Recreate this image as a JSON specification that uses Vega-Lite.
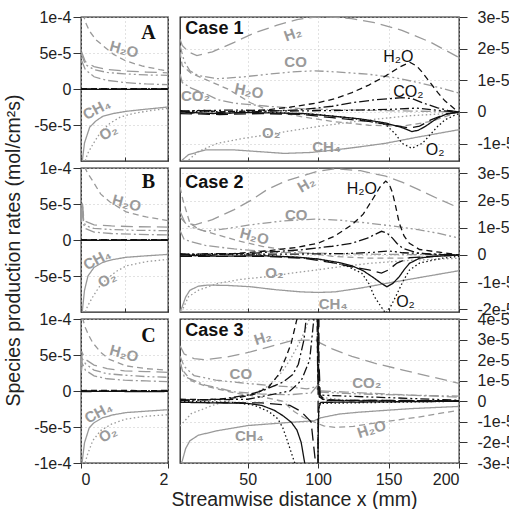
{
"$schema":"https://vega.github.io/schema/vega-lite/v6.json",
"padding":{"left":2,"top":8,"right":0,"bottom":0},
"background":"white",
"config":{
 "view":{"stroke":"#222","strokeWidth":1.3},
 "font":"Liberation Sans",
 "axis":{"labelFont":"Liberation Sans","labelFontSize":16,"labelColor":"#222","tickColor":"#333","domain":false,"grid":true,"gridColor":"#c4c4c4","gridDash":[1,3],"gridWidth":1,"titleFont":"Liberation Sans","titleFontSize":19.5,"titleFontWeight":"normal","titleColor":"#222"},
 "text":{"font":"Liberation Sans","fontSize":15}
},
"datasets":{
"labels":[
 {"p":"A","k":"letter","t":"A","g":"black","x":1.55,"y":0.78e-4},
 {"p":"A","k":"down","t":"H₂O","g":"gray","x":0.99,"y":0.55e-4},
 {"p":"A","k":"steep","t":"CH₄","g":"gray","x":0.36,"y":-0.28e-4},
 {"p":"A","k":"steep","t":"O₂","g":"gray","x":0.63,"y":-0.6e-4},
 {"p":"B","k":"letter","t":"B","g":"black","x":1.55,"y":0.8e-4},
 {"p":"B","k":"down","t":"H₂O","g":"gray","x":1.05,"y":0.51e-4},
 {"p":"B","k":"steep","t":"CH₄","g":"gray","x":0.37,"y":-0.27e-4},
 {"p":"B","k":"steep","t":"O₂","g":"gray","x":0.6,"y":-0.55e-4},
 {"p":"C","k":"letter","t":"C","g":"black","x":1.55,"y":0.76e-4},
 {"p":"C","k":"down","t":"H₂O","g":"gray","x":0.99,"y":0.52e-4},
 {"p":"C","k":"steep","t":"CH₄","g":"gray","x":0.4,"y":-0.3e-4},
 {"p":"C","k":"steep","t":"O₂","g":"gray","x":0.62,"y":-0.6e-4},
 {"p":"1","k":"case","t":"Case 1","g":"black","x":5.8,"y":2.63e-5},
 {"p":"1","k":"up","t":"H₂","g":"gray","x":82,"y":2.47e-5},
 {"p":"1","k":"flat","t":"CO","g":"gray","x":84,"y":1.57e-5},
 {"p":"1","k":"down","t":"H₂O","g":"gray","x":51,"y":0.66e-5},
 {"p":"1","k":"flat","t":"CO₂","g":"gray","x":13,"y":0.5e-5},
 {"p":"1","k":"flat","t":"O₂","g":"gray","x":66.7,"y":-0.67e-5},
 {"p":"1","k":"flat","t":"CH₄","g":"gray","x":106,"y":-1.1e-5},
 {"p":"1","k":"bflat","t":"H₂O","g":"black","x":157,"y":1.73e-5},
 {"p":"1","k":"bflat","t":"CO₂","g":"black","x":164,"y":0.63e-5},
 {"p":"1","k":"bflat","t":"O₂","g":"black","x":183,"y":-1.2e-5},
 {"p":"2","k":"case","t":"Case 2","g":"black","x":5.8,"y":2.66e-5},
 {"p":"2","k":"steep","t":"H₂","g":"gray","x":91.7,"y":2.6e-5},
 {"p":"2","k":"flat","t":"CO","g":"gray","x":84.5,"y":1.48e-5},
 {"p":"2","k":"down","t":"H₂O","g":"gray","x":54.8,"y":0.68e-5},
 {"p":"2","k":"flat","t":"O₂","g":"gray","x":69,"y":-0.68e-5},
 {"p":"2","k":"flat","t":"CH₄","g":"gray","x":110.7,"y":-1.79e-5},
 {"p":"2","k":"bflat","t":"H₂O","g":"black","x":131,"y":2.41e-5},
 {"p":"2","k":"bflat","t":"O₂","g":"black","x":162,"y":-1.73e-5},
 {"p":"3","k":"case","t":"Case 3","g":"black","x":5.8,"y":3.41e-5},
 {"p":"3","k":"up","t":"H₂","g":"gray","x":60.7,"y":3.09e-5},
 {"p":"3","k":"flat","t":"CO","g":"gray","x":45.2,"y":1.33e-5},
 {"p":"3","k":"flat","t":"CO₂","g":"gray","x":134.5,"y":0.87e-5},
 {"p":"3","k":"flat","t":"CH₄","g":"gray","x":51.2,"y":-1.67e-5},
 {"p":"3","k":"up","t":"H₂O","g":"gray","x":138,"y":-1.35e-5}
],
"curves":[
 {"p":"A","s":"H2O","g":"gray","x":0.05,"y":1.05e-4},{"p":"A","s":"H2O","g":"gray","x":0.1,"y":0.93e-4},{"p":"A","s":"H2O","g":"gray","x":0.2,"y":0.8e-4},{"p":"A","s":"H2O","g":"gray","x":0.35,"y":0.68e-4},{"p":"A","s":"H2O","g":"gray","x":0.51,"y":0.6e-4},{"p":"A","s":"H2O","g":"gray","x":0.75,"y":0.48e-4},{"p":"A","s":"H2O","g":"gray","x":1.03,"y":0.39e-4},{"p":"A","s":"H2O","g":"gray","x":1.4,"y":0.32e-4},{"p":"A","s":"H2O","g":"gray","x":1.81,"y":0.27e-4},{"p":"A","s":"H2O","g":"gray","x":2,"y":0.25e-4},
 {"p":"A","s":"H2","g":"gray","x":0.01,"y":0.52e-4},{"p":"A","s":"H2","g":"gray","x":0.1,"y":0.38e-4},{"p":"A","s":"H2","g":"gray","x":0.3,"y":0.31e-4},{"p":"A","s":"H2","g":"gray","x":0.6,"y":0.27e-4},{"p":"A","s":"H2","g":"gray","x":1,"y":0.25e-4},{"p":"A","s":"H2","g":"gray","x":1.5,"y":0.235e-4},{"p":"A","s":"H2","g":"gray","x":2,"y":0.225e-4},
 {"p":"A","s":"CO","g":"gray","x":0.01,"y":0.48e-4},{"p":"A","s":"CO","g":"gray","x":0.1,"y":0.34e-4},{"p":"A","s":"CO","g":"gray","x":0.3,"y":0.27e-4},{"p":"A","s":"CO","g":"gray","x":0.6,"y":0.23e-4},{"p":"A","s":"CO","g":"gray","x":1,"y":0.21e-4},{"p":"A","s":"CO","g":"gray","x":1.5,"y":0.195e-4},{"p":"A","s":"CO","g":"gray","x":2,"y":0.19e-4},
 {"p":"A","s":"CO2","g":"gray","x":0.01,"y":0.4e-4},{"p":"A","s":"CO2","g":"gray","x":0.1,"y":0.27e-4},{"p":"A","s":"CO2","g":"gray","x":0.3,"y":0.17e-4},{"p":"A","s":"CO2","g":"gray","x":0.6,"y":0.12e-4},{"p":"A","s":"CO2","g":"gray","x":1,"y":0.09e-4},{"p":"A","s":"CO2","g":"gray","x":1.5,"y":0.07e-4},{"p":"A","s":"CO2","g":"gray","x":2,"y":0.06e-4},
 {"p":"A","s":"CH4","g":"gray","x":0.02,"y":-1.05e-4},{"p":"A","s":"CH4","g":"gray","x":0.08,"y":-0.75e-4},{"p":"A","s":"CH4","g":"gray","x":0.2,"y":-0.53e-4},{"p":"A","s":"CH4","g":"gray","x":0.35,"y":-0.44e-4},{"p":"A","s":"CH4","g":"gray","x":0.5,"y":-0.38e-4},{"p":"A","s":"CH4","g":"gray","x":0.75,"y":-0.34e-4},{"p":"A","s":"CH4","g":"gray","x":1.04,"y":-0.31e-4},{"p":"A","s":"CH4","g":"gray","x":1.5,"y":-0.28e-4},{"p":"A","s":"CH4","g":"gray","x":2,"y":-0.25e-4},
 {"p":"A","s":"O2","g":"gray","x":0.07,"y":-1.05e-4},{"p":"A","s":"O2","g":"gray","x":0.15,"y":-0.9e-4},{"p":"A","s":"O2","g":"gray","x":0.28,"y":-0.76e-4},{"p":"A","s":"O2","g":"gray","x":0.45,"y":-0.6e-4},{"p":"A","s":"O2","g":"gray","x":0.66,"y":-0.48e-4},{"p":"A","s":"O2","g":"gray","x":0.9,"y":-0.39e-4},{"p":"A","s":"O2","g":"gray","x":1.2,"y":-0.34e-4},{"p":"A","s":"O2","g":"gray","x":1.6,"y":-0.3e-4},{"p":"A","s":"O2","g":"gray","x":2,"y":-0.27e-4},
 {"p":"A","s":"CH4","g":"black","x":0,"y":-0.006e-4},{"p":"A","s":"CH4","g":"black","x":1,"y":-0.006e-4},{"p":"A","s":"CH4","g":"black","x":2,"y":-0.006e-4},
 {"p":"A","s":"H2O","g":"black","x":0,"y":0.006e-4},{"p":"A","s":"H2O","g":"black","x":1,"y":0.006e-4},{"p":"A","s":"H2O","g":"black","x":2,"y":0.006e-4},
 {"p":"A","s":"CO2","g":"black","x":0,"y":0},{"p":"A","s":"CO2","g":"black","x":2,"y":0},

 {"p":"B","s":"H2O","g":"gray","x":0.08,"y":1.02e-4},{"p":"B","s":"H2O","g":"gray","x":0.15,"y":0.93e-4},{"p":"B","s":"H2O","g":"gray","x":0.28,"y":0.81e-4},{"p":"B","s":"H2O","g":"gray","x":0.45,"y":0.64e-4},{"p":"B","s":"H2O","g":"gray","x":0.66,"y":0.53e-4},{"p":"B","s":"H2O","g":"gray","x":1.04,"y":0.39e-4},{"p":"B","s":"H2O","g":"gray","x":1.5,"y":0.32e-4},{"p":"B","s":"H2O","g":"gray","x":2,"y":0.27e-4},
 {"p":"B","s":"H2","g":"gray","x":0.01,"y":0.35e-4},{"p":"B","s":"H2","g":"gray","x":0.03,"y":0.55e-4},{"p":"B","s":"H2","g":"gray","x":0.06,"y":0.32e-4},{"p":"B","s":"H2","g":"gray","x":0.1,"y":0.26e-4},{"p":"B","s":"H2","g":"gray","x":0.3,"y":0.21e-4},{"p":"B","s":"H2","g":"gray","x":0.7,"y":0.195e-4},{"p":"B","s":"H2","g":"gray","x":1.2,"y":0.185e-4},{"p":"B","s":"H2","g":"gray","x":2,"y":0.18e-4},
 {"p":"B","s":"CO","g":"gray","x":0.01,"y":0.3e-4},{"p":"B","s":"CO","g":"gray","x":0.03,"y":0.5e-4},{"p":"B","s":"CO","g":"gray","x":0.06,"y":0.28e-4},{"p":"B","s":"CO","g":"gray","x":0.1,"y":0.2e-4},{"p":"B","s":"CO","g":"gray","x":0.3,"y":0.16e-4},{"p":"B","s":"CO","g":"gray","x":0.7,"y":0.145e-4},{"p":"B","s":"CO","g":"gray","x":1.2,"y":0.135e-4},{"p":"B","s":"CO","g":"gray","x":2,"y":0.13e-4},
 {"p":"B","s":"CO2","g":"gray","x":0.01,"y":0.25e-4},{"p":"B","s":"CO2","g":"gray","x":0.03,"y":0.45e-4},{"p":"B","s":"CO2","g":"gray","x":0.06,"y":0.22e-4},{"p":"B","s":"CO2","g":"gray","x":0.1,"y":0.16e-4},{"p":"B","s":"CO2","g":"gray","x":0.3,"y":0.11e-4},{"p":"B","s":"CO2","g":"gray","x":0.7,"y":0.09e-4},{"p":"B","s":"CO2","g":"gray","x":1.2,"y":0.08e-4},{"p":"B","s":"CO2","g":"gray","x":2,"y":0.07e-4},
 {"p":"B","s":"CH4","g":"gray","x":0.02,"y":-1.05e-4},{"p":"B","s":"CH4","g":"gray","x":0.08,"y":-0.7e-4},{"p":"B","s":"CH4","g":"gray","x":0.16,"y":-0.5e-4},{"p":"B","s":"CH4","g":"gray","x":0.3,"y":-0.38e-4},{"p":"B","s":"CH4","g":"gray","x":0.5,"y":-0.31e-4},{"p":"B","s":"CH4","g":"gray","x":0.75,"y":-0.27e-4},{"p":"B","s":"CH4","g":"gray","x":1.04,"y":-0.24e-4},{"p":"B","s":"CH4","g":"gray","x":1.5,"y":-0.22e-4},{"p":"B","s":"CH4","g":"gray","x":2,"y":-0.2e-4},
 {"p":"B","s":"O2","g":"gray","x":0.07,"y":-1.05e-4},{"p":"B","s":"O2","g":"gray","x":0.15,"y":-0.92e-4},{"p":"B","s":"O2","g":"gray","x":0.28,"y":-0.78e-4},{"p":"B","s":"O2","g":"gray","x":0.42,"y":-0.65e-4},{"p":"B","s":"O2","g":"gray","x":0.58,"y":-0.55e-4},{"p":"B","s":"O2","g":"gray","x":0.8,"y":-0.44e-4},{"p":"B","s":"O2","g":"gray","x":1.04,"y":-0.36e-4},{"p":"B","s":"O2","g":"gray","x":1.5,"y":-0.3e-4},{"p":"B","s":"O2","g":"gray","x":2,"y":-0.27e-4},
 {"p":"B","s":"CH4","g":"black","x":0,"y":-0.006e-4},{"p":"B","s":"CH4","g":"black","x":1,"y":-0.006e-4},{"p":"B","s":"CH4","g":"black","x":2,"y":-0.006e-4},
 {"p":"B","s":"H2O","g":"black","x":0,"y":0.006e-4},{"p":"B","s":"H2O","g":"black","x":1,"y":0.006e-4},{"p":"B","s":"H2O","g":"black","x":2,"y":0.006e-4},
 {"p":"B","s":"CO2","g":"black","x":0,"y":0},{"p":"B","s":"CO2","g":"black","x":2,"y":0},

 {"p":"C","s":"H2O","g":"gray","x":0.03,"y":1.02e-4},{"p":"C","s":"H2O","g":"gray","x":0.1,"y":0.88e-4},{"p":"C","s":"H2O","g":"gray","x":0.18,"y":0.77e-4},{"p":"C","s":"H2O","g":"gray","x":0.27,"y":0.67e-4},{"p":"C","s":"H2O","g":"gray","x":0.45,"y":0.54e-4},{"p":"C","s":"H2O","g":"gray","x":0.65,"y":0.44e-4},{"p":"C","s":"H2O","g":"gray","x":1.03,"y":0.35e-4},{"p":"C","s":"H2O","g":"gray","x":1.5,"y":0.31e-4},{"p":"C","s":"H2O","g":"gray","x":2,"y":0.29e-4},
 {"p":"C","s":"H2","g":"gray","x":0.01,"y":0.4e-4},{"p":"C","s":"H2","g":"gray","x":0.03,"y":0.53e-4},{"p":"C","s":"H2","g":"gray","x":0.1,"y":0.44e-4},{"p":"C","s":"H2","g":"gray","x":0.3,"y":0.36e-4},{"p":"C","s":"H2","g":"gray","x":0.6,"y":0.31e-4},{"p":"C","s":"H2","g":"gray","x":1,"y":0.28e-4},{"p":"C","s":"H2","g":"gray","x":1.5,"y":0.27e-4},{"p":"C","s":"H2","g":"gray","x":2,"y":0.26e-4},
 {"p":"C","s":"CO","g":"gray","x":0.01,"y":0.35e-4},{"p":"C","s":"CO","g":"gray","x":0.03,"y":0.45e-4},{"p":"C","s":"CO","g":"gray","x":0.1,"y":0.38e-4},{"p":"C","s":"CO","g":"gray","x":0.3,"y":0.29e-4},{"p":"C","s":"CO","g":"gray","x":0.6,"y":0.24e-4},{"p":"C","s":"CO","g":"gray","x":1,"y":0.22e-4},{"p":"C","s":"CO","g":"gray","x":1.5,"y":0.2e-4},{"p":"C","s":"CO","g":"gray","x":2,"y":0.19e-4},
 {"p":"C","s":"CO2","g":"gray","x":0.01,"y":0.28e-4},{"p":"C","s":"CO2","g":"gray","x":0.03,"y":0.38e-4},{"p":"C","s":"CO2","g":"gray","x":0.1,"y":0.29e-4},{"p":"C","s":"CO2","g":"gray","x":0.3,"y":0.21e-4},{"p":"C","s":"CO2","g":"gray","x":0.6,"y":0.17e-4},{"p":"C","s":"CO2","g":"gray","x":1,"y":0.15e-4},{"p":"C","s":"CO2","g":"gray","x":1.5,"y":0.14e-4},{"p":"C","s":"CO2","g":"gray","x":2,"y":0.13e-4},
 {"p":"C","s":"CH4","g":"gray","x":0.02,"y":-1.02e-4},{"p":"C","s":"CH4","g":"gray","x":0.08,"y":-0.72e-4},{"p":"C","s":"CH4","g":"gray","x":0.19,"y":-0.51e-4},{"p":"C","s":"CH4","g":"gray","x":0.3,"y":-0.44e-4},{"p":"C","s":"CH4","g":"gray","x":0.5,"y":-0.37e-4},{"p":"C","s":"CH4","g":"gray","x":0.75,"y":-0.33e-4},{"p":"C","s":"CH4","g":"gray","x":1.03,"y":-0.3e-4},{"p":"C","s":"CH4","g":"gray","x":1.5,"y":-0.28e-4},{"p":"C","s":"CH4","g":"gray","x":2,"y":-0.26e-4},
 {"p":"C","s":"O2","g":"gray","x":0.07,"y":-1.05e-4},{"p":"C","s":"O2","g":"gray","x":0.15,"y":-0.88e-4},{"p":"C","s":"O2","g":"gray","x":0.27,"y":-0.69e-4},{"p":"C","s":"O2","g":"gray","x":0.45,"y":-0.55e-4},{"p":"C","s":"O2","g":"gray","x":0.7,"y":-0.46e-4},{"p":"C","s":"O2","g":"gray","x":1.03,"y":-0.39e-4},{"p":"C","s":"O2","g":"gray","x":1.5,"y":-0.35e-4},{"p":"C","s":"O2","g":"gray","x":2,"y":-0.33e-4},
 {"p":"C","s":"CH4","g":"black","x":0,"y":-0.008e-4},{"p":"C","s":"CH4","g":"black","x":0.7,"y":-0.004e-4},{"p":"C","s":"CH4","g":"black","x":1.4,"y":-0.01e-4},{"p":"C","s":"CH4","g":"black","x":2,"y":-0.006e-4},
 {"p":"C","s":"H2O","g":"black","x":0,"y":0.006e-4},{"p":"C","s":"H2O","g":"black","x":0.8,"y":0.01e-4},{"p":"C","s":"H2O","g":"black","x":1.5,"y":0.004e-4},{"p":"C","s":"H2O","g":"black","x":2,"y":0.008e-4},
 {"p":"C","s":"CO2","g":"black","x":0,"y":0},{"p":"C","s":"CO2","g":"black","x":2,"y":0},

 {"p":"1","s":"H2","g":"gray","x":2,"y":2.3e-5},{"p":"1","s":"H2","g":"gray","x":3.6,"y":2.1e-5},{"p":"1","s":"H2","g":"gray","x":8,"y":1.9e-5},{"p":"1","s":"H2","g":"gray","x":14,"y":1.78e-5},{"p":"1","s":"H2","g":"gray","x":25,"y":1.9e-5},{"p":"1","s":"H2","g":"gray","x":40.5,"y":2.2e-5},{"p":"1","s":"H2","g":"gray","x":55,"y":2.5e-5},{"p":"1","s":"H2","g":"gray","x":71,"y":2.74e-5},{"p":"1","s":"H2","g":"gray","x":85,"y":2.92e-5},{"p":"1","s":"H2","g":"gray","x":97.6,"y":3.0e-5},{"p":"1","s":"H2","g":"gray","x":110,"y":3.0e-5},{"p":"1","s":"H2","g":"gray","x":123.8,"y":2.95e-5},{"p":"1","s":"H2","g":"gray","x":140,"y":2.82e-5},{"p":"1","s":"H2","g":"gray","x":159.5,"y":2.58e-5},{"p":"1","s":"H2","g":"gray","x":180,"y":2.2e-5},{"p":"1","s":"H2","g":"gray","x":200,"y":1.72e-5},
 {"p":"1","s":"CO","g":"gray","x":2,"y":2.1e-5},{"p":"1","s":"CO","g":"gray","x":5,"y":1.6e-5},{"p":"1","s":"CO","g":"gray","x":9,"y":1.3e-5},{"p":"1","s":"CO","g":"gray","x":15,"y":1.15e-5},{"p":"1","s":"CO","g":"gray","x":28.6,"y":1.05e-5},{"p":"1","s":"CO","g":"gray","x":45,"y":1.1e-5},{"p":"1","s":"CO","g":"gray","x":64,"y":1.19e-5},{"p":"1","s":"CO","g":"gray","x":80,"y":1.26e-5},{"p":"1","s":"CO","g":"gray","x":97.6,"y":1.3e-5},{"p":"1","s":"CO","g":"gray","x":115,"y":1.26e-5},{"p":"1","s":"CO","g":"gray","x":136,"y":1.19e-5},{"p":"1","s":"CO","g":"gray","x":155,"y":1.08e-5},{"p":"1","s":"CO","g":"gray","x":171,"y":0.93e-5},{"p":"1","s":"CO","g":"gray","x":185,"y":0.78e-5},{"p":"1","s":"CO","g":"gray","x":200,"y":0.6e-5},
 {"p":"1","s":"H2O","g":"gray","x":2,"y":1.9e-5},{"p":"1","s":"H2O","g":"gray","x":3.6,"y":1.46e-5},{"p":"1","s":"H2O","g":"gray","x":10,"y":1.22e-5},{"p":"1","s":"H2O","g":"gray","x":20,"y":1.03e-5},{"p":"1","s":"H2O","g":"gray","x":36.6,"y":0.71e-5},{"p":"1","s":"H2O","g":"gray","x":52,"y":0.29e-5},{"p":"1","s":"H2O","g":"gray","x":65,"y":0.05e-5},{"p":"1","s":"H2O","g":"gray","x":88,"y":-0.15e-5},{"p":"1","s":"H2O","g":"gray","x":110,"y":-0.3e-5},{"p":"1","s":"H2O","g":"gray","x":136,"y":-0.42e-5},{"p":"1","s":"H2O","g":"gray","x":160,"y":-0.45e-5},{"p":"1","s":"H2O","g":"gray","x":180,"y":-0.3e-5},{"p":"1","s":"H2O","g":"gray","x":200,"y":0},
 {"p":"1","s":"CO2","g":"gray","x":2,"y":1.2e-5},{"p":"1","s":"CO2","g":"gray","x":3.6,"y":0.93e-5},{"p":"1","s":"CO2","g":"gray","x":10,"y":0.75e-5},{"p":"1","s":"CO2","g":"gray","x":15.3,"y":0.66e-5},{"p":"1","s":"CO2","g":"gray","x":20,"y":0.58e-5},{"p":"1","s":"CO2","g":"gray","x":28.6,"y":0.39e-5},{"p":"1","s":"CO2","g":"gray","x":40,"y":0.28e-5},{"p":"1","s":"CO2","g":"gray","x":64,"y":0.18e-5},{"p":"1","s":"CO2","g":"gray","x":90,"y":0.1e-5},{"p":"1","s":"CO2","g":"gray","x":112,"y":0.07e-5},{"p":"1","s":"CO2","g":"gray","x":150,"y":0.04e-5},{"p":"1","s":"CO2","g":"gray","x":200,"y":0},
 {"p":"1","s":"CH4","g":"gray","x":2,"y":-1.65e-5},{"p":"1","s":"CH4","g":"gray","x":3.6,"y":-1.52e-5},{"p":"1","s":"CH4","g":"gray","x":8,"y":-1.35e-5},{"p":"1","s":"CH4","g":"gray","x":20,"y":-1.2e-5},{"p":"1","s":"CH4","g":"gray","x":40.5,"y":-1.2e-5},{"p":"1","s":"CH4","g":"gray","x":60,"y":-1.26e-5},{"p":"1","s":"CH4","g":"gray","x":76,"y":-1.31e-5},{"p":"1","s":"CH4","g":"gray","x":95,"y":-1.28e-5},{"p":"1","s":"CH4","g":"gray","x":112,"y":-1.2e-5},{"p":"1","s":"CH4","g":"gray","x":130,"y":-1.1e-5},{"p":"1","s":"CH4","g":"gray","x":148,"y":-0.99e-5},{"p":"1","s":"CH4","g":"gray","x":170,"y":-0.8e-5},{"p":"1","s":"CH4","g":"gray","x":200,"y":-0.56e-5},
 {"p":"1","s":"O2","g":"gray","x":6,"y":-1.6e-5},{"p":"1","s":"O2","g":"gray","x":15,"y":-1.25e-5},{"p":"1","s":"O2","g":"gray","x":28.6,"y":-0.99e-5},{"p":"1","s":"O2","g":"gray","x":45,"y":-0.85e-5},{"p":"1","s":"O2","g":"gray","x":64,"y":-0.72e-5},{"p":"1","s":"O2","g":"gray","x":80,"y":-0.6e-5},{"p":"1","s":"O2","g":"gray","x":100,"y":-0.46e-5},{"p":"1","s":"O2","g":"gray","x":118,"y":-0.35e-5},{"p":"1","s":"O2","g":"gray","x":136,"y":-0.25e-5},{"p":"1","s":"O2","g":"gray","x":165,"y":-0.12e-5},{"p":"1","s":"O2","g":"gray","x":200,"y":-0.03e-5},
 {"p":"1","s":"H2O","g":"black","x":2,"y":0.05e-5},{"p":"1","s":"H2O","g":"black","x":10,"y":-0.04e-5},{"p":"1","s":"H2O","g":"black","x":20,"y":0.06e-5},{"p":"1","s":"H2O","g":"black","x":30,"y":0.0},{"p":"1","s":"H2O","g":"black","x":50,"y":0.03e-5},{"p":"1","s":"H2O","g":"black","x":64,"y":0.07e-5},{"p":"1","s":"H2O","g":"black","x":80,"y":0.15e-5},{"p":"1","s":"H2O","g":"black","x":100,"y":0.29e-5},{"p":"1","s":"H2O","g":"black","x":112,"y":0.42e-5},{"p":"1","s":"H2O","g":"black","x":124,"y":0.61e-5},{"p":"1","s":"H2O","g":"black","x":136,"y":0.85e-5},{"p":"1","s":"H2O","g":"black","x":148,"y":1.14e-5},{"p":"1","s":"H2O","g":"black","x":158,"y":1.42e-5},{"p":"1","s":"H2O","g":"black","x":165,"y":1.57e-5},{"p":"1","s":"H2O","g":"black","x":170,"y":1.45e-5},{"p":"1","s":"H2O","g":"black","x":174,"y":1.25e-5},{"p":"1","s":"H2O","g":"black","x":180,"y":0.9e-5},{"p":"1","s":"H2O","g":"black","x":185,"y":0.61e-5},{"p":"1","s":"H2O","g":"black","x":190,"y":0.35e-5},{"p":"1","s":"H2O","g":"black","x":197.6,"y":0.07e-5},{"p":"1","s":"H2O","g":"black","x":200,"y":0},
 {"p":"1","s":"CO2","g":"black","x":2,"y":0},{"p":"1","s":"CO2","g":"black","x":15,"y":0.05e-5},{"p":"1","s":"CO2","g":"black","x":35,"y":-0.04e-5},{"p":"1","s":"CO2","g":"black","x":50,"y":0},{"p":"1","s":"CO2","g":"black","x":88,"y":0.07e-5},{"p":"1","s":"CO2","g":"black","x":110,"y":0.18e-5},{"p":"1","s":"CO2","g":"black","x":124,"y":0.29e-5},{"p":"1","s":"CO2","g":"black","x":140,"y":0.38e-5},{"p":"1","s":"CO2","g":"black","x":159.5,"y":0.45e-5},{"p":"1","s":"CO2","g":"black","x":167,"y":0.42e-5},{"p":"1","s":"CO2","g":"black","x":174,"y":0.29e-5},{"p":"1","s":"CO2","g":"black","x":184.8,"y":0.13e-5},{"p":"1","s":"CO2","g":"black","x":192,"y":0.05e-5},{"p":"1","s":"CO2","g":"black","x":200,"y":0},
 {"p":"1","s":"CH4","g":"black","x":2,"y":0},{"p":"1","s":"CH4","g":"black","x":25,"y":-0.05e-5},{"p":"1","s":"CH4","g":"black","x":50,"y":-0.02e-5},{"p":"1","s":"CH4","g":"black","x":90,"y":-0.05e-5},{"p":"1","s":"CH4","g":"black","x":112,"y":-0.14e-5},{"p":"1","s":"CH4","g":"black","x":130,"y":-0.22e-5},{"p":"1","s":"CH4","g":"black","x":148,"y":-0.35e-5},{"p":"1","s":"CH4","g":"black","x":160,"y":-0.5e-5},{"p":"1","s":"CH4","g":"black","x":166.5,"y":-0.62e-5},{"p":"1","s":"CH4","g":"black","x":171,"y":-0.58e-5},{"p":"1","s":"CH4","g":"black","x":176,"y":-0.46e-5},{"p":"1","s":"CH4","g":"black","x":184.8,"y":-0.19e-5},{"p":"1","s":"CH4","g":"black","x":192,"y":-0.05e-5},{"p":"1","s":"CH4","g":"black","x":200,"y":0},
 {"p":"1","s":"H2","g":"black","x":2,"y":-0.05e-5},{"p":"1","s":"H2","g":"black","x":30,"y":-0.08e-5},{"p":"1","s":"H2","g":"black","x":60,"y":-0.05e-5},{"p":"1","s":"H2","g":"black","x":88,"y":-0.08e-5},{"p":"1","s":"H2","g":"black","x":110,"y":-0.18e-5},{"p":"1","s":"H2","g":"black","x":136,"y":-0.3e-5},{"p":"1","s":"H2","g":"black","x":150,"y":-0.4e-5},{"p":"1","s":"H2","g":"black","x":165,"y":-0.51e-5},{"p":"1","s":"H2","g":"black","x":172,"y":-0.45e-5},{"p":"1","s":"H2","g":"black","x":180,"y":-0.25e-5},{"p":"1","s":"H2","g":"black","x":190,"y":-0.08e-5},{"p":"1","s":"H2","g":"black","x":200,"y":0},
 {"p":"1","s":"O2","g":"black","x":2,"y":0.02e-5},{"p":"1","s":"O2","g":"black","x":60,"y":0},{"p":"1","s":"O2","g":"black","x":100,"y":-0.08e-5},{"p":"1","s":"O2","g":"black","x":125,"y":-0.2e-5},{"p":"1","s":"O2","g":"black","x":148,"y":-0.4e-5},{"p":"1","s":"O2","g":"black","x":155,"y":-0.7e-5},{"p":"1","s":"O2","g":"black","x":159.5,"y":-0.99e-5},{"p":"1","s":"O2","g":"black","x":166.5,"y":-1.15e-5},{"p":"1","s":"O2","g":"black","x":174,"y":-0.99e-5},{"p":"1","s":"O2","g":"black","x":180,"y":-0.7e-5},{"p":"1","s":"O2","g":"black","x":184.8,"y":-0.46e-5},{"p":"1","s":"O2","g":"black","x":190,"y":-0.25e-5},{"p":"1","s":"O2","g":"black","x":197.6,"y":-0.09e-5},{"p":"1","s":"O2","g":"black","x":200,"y":-0.05e-5},
 {"p":"1","s":"CO","g":"black","x":2,"y":0.03e-5},{"p":"1","s":"CO","g":"black","x":40,"y":0.06e-5},{"p":"1","s":"CO","g":"black","x":80,"y":0.03e-5},{"p":"1","s":"CO","g":"black","x":120,"y":0.05e-5},{"p":"1","s":"CO","g":"black","x":150,"y":0.08e-5},{"p":"1","s":"CO","g":"black","x":170,"y":0.12e-5},{"p":"1","s":"CO","g":"black","x":185,"y":0.05e-5},{"p":"1","s":"CO","g":"black","x":200,"y":0},

 {"p":"2","s":"H2","g":"gray","x":2,"y":1.6e-5},{"p":"2","s":"H2","g":"gray","x":5.7,"y":1.17e-5},{"p":"2","s":"H2","g":"gray","x":12.6,"y":1.11e-5},{"p":"2","s":"H2","g":"gray","x":25,"y":1.3e-5},{"p":"2","s":"H2","g":"gray","x":40.5,"y":1.67e-5},{"p":"2","s":"H2","g":"gray","x":52,"y":2.0e-5},{"p":"2","s":"H2","g":"gray","x":64,"y":2.41e-5},{"p":"2","s":"H2","g":"gray","x":76,"y":2.7e-5},{"p":"2","s":"H2","g":"gray","x":88,"y":2.9e-5},{"p":"2","s":"H2","g":"gray","x":100,"y":3.08e-5},{"p":"2","s":"H2","g":"gray","x":112,"y":3.17e-5},{"p":"2","s":"H2","g":"gray","x":130,"y":3.1e-5},{"p":"2","s":"H2","g":"gray","x":148,"y":2.9e-5},{"p":"2","s":"H2","g":"gray","x":160,"y":2.67e-5},{"p":"2","s":"H2","g":"gray","x":171,"y":2.41e-5},{"p":"2","s":"H2","g":"gray","x":185,"y":2.07e-5},{"p":"2","s":"H2","g":"gray","x":200,"y":1.73e-5},
 {"p":"2","s":"CO","g":"gray","x":2,"y":1.4e-5},{"p":"2","s":"CO","g":"gray","x":8,"y":1.05e-5},{"p":"2","s":"CO","g":"gray","x":20,"y":0.87e-5},{"p":"2","s":"CO","g":"gray","x":35,"y":0.97e-5},{"p":"2","s":"CO","g":"gray","x":52,"y":1.11e-5},{"p":"2","s":"CO","g":"gray","x":75,"y":1.25e-5},{"p":"2","s":"CO","g":"gray","x":97.6,"y":1.32e-5},{"p":"2","s":"CO","g":"gray","x":115,"y":1.28e-5},{"p":"2","s":"CO","g":"gray","x":136,"y":1.17e-5},{"p":"2","s":"CO","g":"gray","x":155,"y":1.05e-5},{"p":"2","s":"CO","g":"gray","x":171,"y":0.93e-5},{"p":"2","s":"CO","g":"gray","x":185,"y":0.8e-5},{"p":"2","s":"CO","g":"gray","x":200,"y":0.62e-5},
 {"p":"2","s":"H2O","g":"gray","x":2,"y":2.5e-5},{"p":"2","s":"H2O","g":"gray","x":4,"y":2.04e-5},{"p":"2","s":"H2O","g":"gray","x":9,"y":1.17e-5},{"p":"2","s":"H2O","g":"gray","x":15,"y":0.95e-5},{"p":"2","s":"H2O","g":"gray","x":28.6,"y":0.74e-5},{"p":"2","s":"H2O","g":"gray","x":45,"y":0.5e-5},{"p":"2","s":"H2O","g":"gray","x":61,"y":0.31e-5},{"p":"2","s":"H2O","g":"gray","x":88,"y":0.1e-5},{"p":"2","s":"H2O","g":"gray","x":110,"y":-0.05e-5},{"p":"2","s":"H2O","g":"gray","x":136,"y":-0.12e-5},{"p":"2","s":"H2O","g":"gray","x":160,"y":-0.12e-5},{"p":"2","s":"H2O","g":"gray","x":180,"y":-0.06e-5},{"p":"2","s":"H2O","g":"gray","x":200,"y":0},
 {"p":"2","s":"CO2","g":"gray","x":2,"y":0.9e-5},{"p":"2","s":"CO2","g":"gray","x":5,"y":0.56e-5},{"p":"2","s":"CO2","g":"gray","x":20,"y":0.35e-5},{"p":"2","s":"CO2","g":"gray","x":40.5,"y":0.22e-5},{"p":"2","s":"CO2","g":"gray","x":70,"y":0.1e-5},{"p":"2","s":"CO2","g":"gray","x":110,"y":0.05e-5},{"p":"2","s":"CO2","g":"gray","x":150,"y":0.02e-5},{"p":"2","s":"CO2","g":"gray","x":200,"y":0},
 {"p":"2","s":"CH4","g":"gray","x":2,"y":-2.1e-5},{"p":"2","s":"CH4","g":"gray","x":3.6,"y":-1.9e-5},{"p":"2","s":"CH4","g":"gray","x":6,"y":-1.55e-5},{"p":"2","s":"CH4","g":"gray","x":9,"y":-1.3e-5},{"p":"2","s":"CH4","g":"gray","x":15,"y":-1.15e-5},{"p":"2","s":"CH4","g":"gray","x":21.4,"y":-1.11e-5},{"p":"2","s":"CH4","g":"gray","x":35,"y":-1.12e-5},{"p":"2","s":"CH4","g":"gray","x":52,"y":-1.17e-5},{"p":"2","s":"CH4","g":"gray","x":70,"y":-1.28e-5},{"p":"2","s":"CH4","g":"gray","x":88,"y":-1.36e-5},{"p":"2","s":"CH4","g":"gray","x":100,"y":-1.38e-5},{"p":"2","s":"CH4","g":"gray","x":112,"y":-1.36e-5},{"p":"2","s":"CH4","g":"gray","x":130,"y":-1.22e-5},{"p":"2","s":"CH4","g":"gray","x":148,"y":-1.05e-5},{"p":"2","s":"CH4","g":"gray","x":170,"y":-0.85e-5},{"p":"2","s":"CH4","g":"gray","x":200,"y":-0.58e-5},
 {"p":"2","s":"O2","g":"gray","x":3,"y":-2.1e-5},{"p":"2","s":"O2","g":"gray","x":8,"y":-1.54e-5},{"p":"2","s":"O2","g":"gray","x":15,"y":-1.3e-5},{"p":"2","s":"O2","g":"gray","x":28.6,"y":-1.05e-5},{"p":"2","s":"O2","g":"gray","x":45,"y":-0.9e-5},{"p":"2","s":"O2","g":"gray","x":64,"y":-0.8e-5},{"p":"2","s":"O2","g":"gray","x":80,"y":-0.68e-5},{"p":"2","s":"O2","g":"gray","x":97.6,"y":-0.56e-5},{"p":"2","s":"O2","g":"gray","x":115,"y":-0.44e-5},{"p":"2","s":"O2","g":"gray","x":136,"y":-0.31e-5},{"p":"2","s":"O2","g":"gray","x":165,"y":-0.2e-5},{"p":"2","s":"O2","g":"gray","x":200,"y":-0.12e-5},
 {"p":"2","s":"H2O","g":"black","x":2,"y":0.05e-5},{"p":"2","s":"H2O","g":"black","x":15,"y":-0.05e-5},{"p":"2","s":"H2O","g":"black","x":40,"y":0.05e-5},{"p":"2","s":"H2O","g":"black","x":64,"y":0.15e-5},{"p":"2","s":"H2O","g":"black","x":85,"y":0.28e-5},{"p":"2","s":"H2O","g":"black","x":100,"y":0.43e-5},{"p":"2","s":"H2O","g":"black","x":112,"y":0.7e-5},{"p":"2","s":"H2O","g":"black","x":124,"y":1.11e-5},{"p":"2","s":"H2O","g":"black","x":132,"y":1.5e-5},{"p":"2","s":"H2O","g":"black","x":138.6,"y":2.04e-5},{"p":"2","s":"H2O","g":"black","x":144,"y":2.5e-5},{"p":"2","s":"H2O","g":"black","x":148,"y":2.72e-5},{"p":"2","s":"H2O","g":"black","x":150.5,"y":2.6e-5},{"p":"2","s":"H2O","g":"black","x":152.8,"y":2.29e-5},{"p":"2","s":"H2O","g":"black","x":155,"y":1.8e-5},{"p":"2","s":"H2O","g":"black","x":157.6,"y":1.17e-5},{"p":"2","s":"H2O","g":"black","x":161,"y":0.7e-5},{"p":"2","s":"H2O","g":"black","x":164.8,"y":0.43e-5},{"p":"2","s":"H2O","g":"black","x":172,"y":0.2e-5},{"p":"2","s":"H2O","g":"black","x":186,"y":0.1e-5},{"p":"2","s":"H2O","g":"black","x":200,"y":0},
 {"p":"2","s":"CO2","g":"black","x":2,"y":0},{"p":"2","s":"CO2","g":"black","x":25,"y":0.05e-5},{"p":"2","s":"CO2","g":"black","x":50,"y":0.05e-5},{"p":"2","s":"CO2","g":"black","x":88,"y":0.19e-5},{"p":"2","s":"CO2","g":"black","x":110,"y":0.32e-5},{"p":"2","s":"CO2","g":"black","x":124,"y":0.43e-5},{"p":"2","s":"CO2","g":"black","x":135,"y":0.62e-5},{"p":"2","s":"CO2","g":"black","x":145,"y":0.87e-5},{"p":"2","s":"CO2","g":"black","x":149,"y":0.8e-5},{"p":"2","s":"CO2","g":"black","x":152.8,"y":0.62e-5},{"p":"2","s":"CO2","g":"black","x":156,"y":0.42e-5},{"p":"2","s":"CO2","g":"black","x":160,"y":0.25e-5},{"p":"2","s":"CO2","g":"black","x":170,"y":0.08e-5},{"p":"2","s":"CO2","g":"black","x":180,"y":0.02e-5},{"p":"2","s":"CO2","g":"black","x":200,"y":0},
 {"p":"2","s":"CH4","g":"black","x":2,"y":0},{"p":"2","s":"CH4","g":"black","x":30,"y":-0.05e-5},{"p":"2","s":"CH4","g":"black","x":60,"y":-0.03e-5},{"p":"2","s":"CH4","g":"black","x":85,"y":-0.08e-5},{"p":"2","s":"CH4","g":"black","x":100,"y":-0.15e-5},{"p":"2","s":"CH4","g":"black","x":115,"y":-0.28e-5},{"p":"2","s":"CH4","g":"black","x":124,"y":-0.4e-5},{"p":"2","s":"CH4","g":"black","x":132,"y":-0.58e-5},{"p":"2","s":"CH4","g":"black","x":140,"y":-0.86e-5},{"p":"2","s":"CH4","g":"black","x":145,"y":-1.05e-5},{"p":"2","s":"CH4","g":"black","x":148.8,"y":-1.17e-5},{"p":"2","s":"CH4","g":"black","x":153,"y":-1.05e-5},{"p":"2","s":"CH4","g":"black","x":157.6,"y":-0.8e-5},{"p":"2","s":"CH4","g":"black","x":161,"y":-0.55e-5},{"p":"2","s":"CH4","g":"black","x":164.8,"y":-0.31e-5},{"p":"2","s":"CH4","g":"black","x":172,"y":-0.12e-5},{"p":"2","s":"CH4","g":"black","x":180,"y":-0.06e-5},{"p":"2","s":"CH4","g":"black","x":200,"y":0},
 {"p":"2","s":"H2","g":"black","x":2,"y":-0.05e-5},{"p":"2","s":"H2","g":"black","x":60,"y":-0.05e-5},{"p":"2","s":"H2","g":"black","x":90,"y":-0.12e-5},{"p":"2","s":"H2","g":"black","x":112,"y":-0.3e-5},{"p":"2","s":"H2","g":"black","x":125,"y":-0.45e-5},{"p":"2","s":"H2","g":"black","x":136,"y":-0.55e-5},{"p":"2","s":"H2","g":"black","x":145,"y":-0.67e-5},{"p":"2","s":"H2","g":"black","x":150,"y":-0.55e-5},{"p":"2","s":"H2","g":"black","x":156,"y":-0.3e-5},{"p":"2","s":"H2","g":"black","x":165,"y":-0.1e-5},{"p":"2","s":"H2","g":"black","x":200,"y":0},
 {"p":"2","s":"O2","g":"black","x":2,"y":0.02e-5},{"p":"2","s":"O2","g":"black","x":60,"y":0},{"p":"2","s":"O2","g":"black","x":100,"y":-0.15e-5},{"p":"2","s":"O2","g":"black","x":120,"y":-0.4e-5},{"p":"2","s":"O2","g":"black","x":131,"y":-0.67e-5},{"p":"2","s":"O2","g":"black","x":136,"y":-1.05e-5},{"p":"2","s":"O2","g":"black","x":140,"y":-1.54e-5},{"p":"2","s":"O2","g":"black","x":144,"y":-1.85e-5},{"p":"2","s":"O2","g":"black","x":148,"y":-2.15e-5},{"p":"2","s":"O2","g":"black","x":152,"y":-1.85e-5},{"p":"2","s":"O2","g":"black","x":155,"y":-1.54e-5},{"p":"2","s":"O2","g":"black","x":160,"y":-1.0e-5},{"p":"2","s":"O2","g":"black","x":164.8,"y":-0.56e-5},{"p":"2","s":"O2","g":"black","x":172,"y":-0.3e-5},{"p":"2","s":"O2","g":"black","x":188,"y":-0.12e-5},{"p":"2","s":"O2","g":"black","x":200,"y":-0.05e-5},
 {"p":"2","s":"CO","g":"black","x":2,"y":0.03e-5},{"p":"2","s":"CO","g":"black","x":80,"y":0.03e-5},{"p":"2","s":"CO","g":"black","x":120,"y":0.05e-5},{"p":"2","s":"CO","g":"black","x":140,"y":0.1e-5},{"p":"2","s":"CO","g":"black","x":150,"y":0.15e-5},{"p":"2","s":"CO","g":"black","x":160,"y":0.08e-5},{"p":"2","s":"CO","g":"black","x":200,"y":0},

 {"p":"3","s":"H2","g":"gray","x":2,"y":2.7e-5},{"p":"3","s":"H2","g":"gray","x":5,"y":2.3e-5},{"p":"3","s":"H2","g":"gray","x":12,"y":2.07e-5},{"p":"3","s":"H2","g":"gray","x":20,"y":2.02e-5},{"p":"3","s":"H2","g":"gray","x":35,"y":2.15e-5},{"p":"3","s":"H2","g":"gray","x":52,"y":2.4e-5},{"p":"3","s":"H2","g":"gray","x":64,"y":2.62e-5},{"p":"3","s":"H2","g":"gray","x":80,"y":2.92e-5},{"p":"3","s":"H2","g":"gray","x":90,"y":2.97e-5},{"p":"3","s":"H2","g":"gray","x":99,"y":2.97e-5},{"p":"3","s":"H2","g":"gray","x":101,"y":2.85e-5},{"p":"3","s":"H2","g":"gray","x":110,"y":2.55e-5},{"p":"3","s":"H2","g":"gray","x":124,"y":2.18e-5},{"p":"3","s":"H2","g":"gray","x":140,"y":1.85e-5},{"p":"3","s":"H2","g":"gray","x":159.5,"y":1.53e-5},{"p":"3","s":"H2","g":"gray","x":180,"y":1.2e-5},{"p":"3","s":"H2","g":"gray","x":200,"y":0.87e-5},
 {"p":"3","s":"CO","g":"gray","x":2,"y":2.2e-5},{"p":"3","s":"CO","g":"gray","x":5,"y":1.69e-5},{"p":"3","s":"CO","g":"gray","x":12,"y":1.25e-5},{"p":"3","s":"CO","g":"gray","x":27.4,"y":1.03e-5},{"p":"3","s":"CO","g":"gray","x":45,"y":0.9e-5},{"p":"3","s":"CO","g":"gray","x":64,"y":0.78e-5},{"p":"3","s":"CO","g":"gray","x":80,"y":0.7e-5},{"p":"3","s":"CO","g":"gray","x":92,"y":0.6e-5},{"p":"3","s":"CO","g":"gray","x":98,"y":0.7e-5},{"p":"3","s":"CO","g":"gray","x":101,"y":0.45e-5},{"p":"3","s":"CO","g":"gray","x":120,"y":0.38e-5},{"p":"3","s":"CO","g":"gray","x":150,"y":0.32e-5},{"p":"3","s":"CO","g":"gray","x":200,"y":0.25e-5},
 {"p":"3","s":"CO2","g":"gray","x":2,"y":1.9e-5},{"p":"3","s":"CO2","g":"gray","x":5,"y":1.2e-5},{"p":"3","s":"CO2","g":"gray","x":20,"y":0.79e-5},{"p":"3","s":"CO2","g":"gray","x":40.5,"y":0.46e-5},{"p":"3","s":"CO2","g":"gray","x":60,"y":0.35e-5},{"p":"3","s":"CO2","g":"gray","x":80,"y":0.32e-5},{"p":"3","s":"CO2","g":"gray","x":95,"y":0.4e-5},{"p":"3","s":"CO2","g":"gray","x":100,"y":0.8e-5},{"p":"3","s":"CO2","g":"gray","x":102,"y":0.5e-5},{"p":"3","s":"CO2","g":"gray","x":120,"y":0.45e-5},{"p":"3","s":"CO2","g":"gray","x":150,"y":0.35e-5},{"p":"3","s":"CO2","g":"gray","x":175,"y":0.27e-5},{"p":"3","s":"CO2","g":"gray","x":200,"y":0.2e-5},
 {"p":"3","s":"H2O","g":"gray","x":2,"y":1.9e-5},{"p":"3","s":"H2O","g":"gray","x":3.6,"y":1.53e-5},{"p":"3","s":"H2O","g":"gray","x":10,"y":1.0e-5},{"p":"3","s":"H2O","g":"gray","x":20,"y":0.74e-5},{"p":"3","s":"H2O","g":"gray","x":40.5,"y":0.41e-5},{"p":"3","s":"H2O","g":"gray","x":64,"y":0.16e-5},{"p":"3","s":"H2O","g":"gray","x":75,"y":0.0},{"p":"3","s":"H2O","g":"gray","x":83,"y":-0.5e-5},{"p":"3","s":"H2O","g":"gray","x":90,"y":-0.8e-5},{"p":"3","s":"H2O","g":"gray","x":97,"y":-1.0e-5},{"p":"3","s":"H2O","g":"gray","x":104,"y":-1.2e-5},{"p":"3","s":"H2O","g":"gray","x":112,"y":-1.27e-5},{"p":"3","s":"H2O","g":"gray","x":125,"y":-1.22e-5},{"p":"3","s":"H2O","g":"gray","x":136,"y":-1.1e-5},{"p":"3","s":"H2O","g":"gray","x":155,"y":-0.92e-5},{"p":"3","s":"H2O","g":"gray","x":171,"y":-0.77e-5},{"p":"3","s":"H2O","g":"gray","x":185,"y":-0.6e-5},{"p":"3","s":"H2O","g":"gray","x":200,"y":-0.44e-5},
 {"p":"3","s":"CH4","g":"gray","x":2,"y":-3.1e-5},{"p":"3","s":"CH4","g":"gray","x":3.6,"y":-2.9e-5},{"p":"3","s":"CH4","g":"gray","x":6,"y":-2.3e-5},{"p":"3","s":"CH4","g":"gray","x":9,"y":-1.92e-5},{"p":"3","s":"CH4","g":"gray","x":15,"y":-1.65e-5},{"p":"3","s":"CH4","g":"gray","x":28.6,"y":-1.43e-5},{"p":"3","s":"CH4","g":"gray","x":50,"y":-1.18e-5},{"p":"3","s":"CH4","g":"gray","x":81,"y":-1.02e-5},{"p":"3","s":"CH4","g":"gray","x":97,"y":-0.95e-5},{"p":"3","s":"CH4","g":"gray","x":102,"y":-0.8e-5},{"p":"3","s":"CH4","g":"gray","x":115,"y":-0.62e-5},{"p":"3","s":"CH4","g":"gray","x":129,"y":-0.53e-5},{"p":"3","s":"CH4","g":"gray","x":165,"y":-0.36e-5},{"p":"3","s":"CH4","g":"gray","x":200,"y":-0.25e-5},
 {"p":"3","s":"O2","g":"gray","x":2,"y":-1.2e-5},{"p":"3","s":"O2","g":"gray","x":10,"y":-0.6e-5},{"p":"3","s":"O2","g":"gray","x":25,"y":-0.2e-5},{"p":"3","s":"O2","g":"gray","x":40,"y":0.1e-5},{"p":"3","s":"O2","g":"gray","x":55,"y":0.4e-5},{"p":"3","s":"O2","g":"gray","x":65,"y":0.75e-5},{"p":"3","s":"O2","g":"gray","x":74,"y":1.4e-5},{"p":"3","s":"O2","g":"gray","x":80,"y":2.0e-5},{"p":"3","s":"O2","g":"gray","x":88,"y":3.0e-5},{"p":"3","s":"O2","g":"gray","x":95,"y":4.2e-5},{"p":"3","s":"O2","g":"gray","x":98,"y":6e-5},{"p":"3","s":"O2","g":"gray","x":99.5,"y":6e-5},{"p":"3","s":"O2","g":"gray","x":101,"y":0.2e-5},{"p":"3","s":"O2","g":"gray","x":120,"y":0.05e-5},{"p":"3","s":"O2","g":"gray","x":200,"y":0.02e-5},
 {"p":"3","s":"H2O","g":"black","x":2,"y":0.1e-5},{"p":"3","s":"H2O","g":"black","x":20,"y":0.08e-5},{"p":"3","s":"H2O","g":"black","x":35,"y":0.12e-5},{"p":"3","s":"H2O","g":"black","x":45,"y":0.2e-5},{"p":"3","s":"H2O","g":"black","x":55,"y":0.35e-5},{"p":"3","s":"H2O","g":"black","x":65,"y":0.7e-5},{"p":"3","s":"H2O","g":"black","x":72,"y":1.3e-5},{"p":"3","s":"H2O","g":"black","x":77,"y":2.1e-5},{"p":"3","s":"H2O","g":"black","x":81,"y":2.84e-5},{"p":"3","s":"H2O","g":"black","x":85,"y":4.0e-5},{"p":"3","s":"H2O","g":"black","x":90,"y":7e-5},{"p":"3","s":"H2O","g":"black","x":97,"y":25e-5},{"p":"3","s":"H2O","g":"black","x":99,"y":25e-5},{"p":"3","s":"H2O","g":"black","x":99.4,"y":3e-5},{"p":"3","s":"H2O","g":"black","x":100,"y":1.2e-5},{"p":"3","s":"H2O","g":"black","x":101,"y":0.4e-5},{"p":"3","s":"H2O","g":"black","x":103,"y":0.1e-5},{"p":"3","s":"H2O","g":"black","x":120,"y":0.02e-5},{"p":"3","s":"H2O","g":"black","x":200,"y":0.02e-5},
 {"p":"3","s":"CO2","g":"black","x":2,"y":0.05e-5},{"p":"3","s":"CO2","g":"black","x":30,"y":0.1e-5},{"p":"3","s":"CO2","g":"black","x":50,"y":0.3e-5},{"p":"3","s":"CO2","g":"black","x":60,"y":0.5e-5},{"p":"3","s":"CO2","g":"black","x":75,"y":0.93e-5},{"p":"3","s":"CO2","g":"black","x":82,"y":1.3e-5},{"p":"3","s":"CO2","g":"black","x":86,"y":1.8e-5},{"p":"3","s":"CO2","g":"black","x":90,"y":3e-5},{"p":"3","s":"CO2","g":"black","x":93,"y":5e-5},{"p":"3","s":"CO2","g":"black","x":97,"y":25e-5},{"p":"3","s":"CO2","g":"black","x":99,"y":25e-5},{"p":"3","s":"CO2","g":"black","x":99.6,"y":2.0e-5},{"p":"3","s":"CO2","g":"black","x":100,"y":0.6e-5},{"p":"3","s":"CO2","g":"black","x":101,"y":0.2e-5},{"p":"3","s":"CO2","g":"black","x":105,"y":0.05e-5},{"p":"3","s":"CO2","g":"black","x":200,"y":0.02e-5},
 {"p":"3","s":"CH4","g":"black","x":2,"y":-0.05e-5},{"p":"3","s":"CH4","g":"black","x":30,"y":-0.08e-5},{"p":"3","s":"CH4","g":"black","x":50,"y":-0.1e-5},{"p":"3","s":"CH4","g":"black","x":60,"y":-0.2e-5},{"p":"3","s":"CH4","g":"black","x":69,"y":-0.44e-5},{"p":"3","s":"CH4","g":"black","x":75,"y":-0.7e-5},{"p":"3","s":"CH4","g":"black","x":81,"y":-1.02e-5},{"p":"3","s":"CH4","g":"black","x":85,"y":-1.4e-5},{"p":"3","s":"CH4","g":"black","x":88,"y":-2.0e-5},{"p":"3","s":"CH4","g":"black","x":90.5,"y":-3.0e-5},{"p":"3","s":"CH4","g":"black","x":92,"y":-4e-5},{"p":"3","s":"CH4","g":"black","x":98,"y":-25e-5},{"p":"3","s":"CH4","g":"black","x":99.5,"y":-25e-5},{"p":"3","s":"CH4","g":"black","x":100,"y":-2e-5},{"p":"3","s":"CH4","g":"black","x":100.5,"y":-0.3e-5},{"p":"3","s":"CH4","g":"black","x":102,"y":-0.05e-5},{"p":"3","s":"CH4","g":"black","x":200,"y":0},
 {"p":"3","s":"O2","g":"black","x":2,"y":0},{"p":"3","s":"O2","g":"black","x":40,"y":-0.05e-5},{"p":"3","s":"O2","g":"black","x":55,"y":-0.2e-5},{"p":"3","s":"O2","g":"black","x":65,"y":-0.5e-5},{"p":"3","s":"O2","g":"black","x":71.4,"y":-0.85e-5},{"p":"3","s":"O2","g":"black","x":75,"y":-1.3e-5},{"p":"3","s":"O2","g":"black","x":78.6,"y":-2.0e-5},{"p":"3","s":"O2","g":"black","x":83.4,"y":-3.0e-5},{"p":"3","s":"O2","g":"black","x":86,"y":-4e-5},{"p":"3","s":"O2","g":"black","x":95,"y":-25e-5},{"p":"3","s":"O2","g":"black","x":99.5,"y":-25e-5},{"p":"3","s":"O2","g":"black","x":100,"y":-1e-5},{"p":"3","s":"O2","g":"black","x":101,"y":-0.1e-5},{"p":"3","s":"O2","g":"black","x":200,"y":0},
 {"p":"3","s":"H2","g":"black","x":2,"y":-0.05e-5},{"p":"3","s":"H2","g":"black","x":60,"y":-0.08e-5},{"p":"3","s":"H2","g":"black","x":80,"y":-0.2e-5},{"p":"3","s":"H2","g":"black","x":88,"y":-0.5e-5},{"p":"3","s":"H2","g":"black","x":95,"y":-1.0e-5},{"p":"3","s":"H2","g":"black","x":99,"y":-3.5e-5},{"p":"3","s":"H2","g":"black","x":99.8,"y":-25e-5},{"p":"3","s":"H2","g":"black","x":100.2,"y":25e-5},{"p":"3","s":"H2","g":"black","x":100.6,"y":2e-5},{"p":"3","s":"H2","g":"black","x":101.5,"y":0.3e-5},{"p":"3","s":"H2","g":"black","x":105,"y":0.05e-5},{"p":"3","s":"H2","g":"black","x":200,"y":0.03e-5},
 {"p":"3","s":"CO","g":"black","x":2,"y":0.05e-5},{"p":"3","s":"CO","g":"black","x":50,"y":0.1e-5},{"p":"3","s":"CO","g":"black","x":80,"y":0.5e-5},{"p":"3","s":"CO","g":"black","x":88,"y":1.0e-5},{"p":"3","s":"CO","g":"black","x":94,"y":2.0e-5},{"p":"3","s":"CO","g":"black","x":97,"y":4e-5},{"p":"3","s":"CO","g":"black","x":99,"y":25e-5},{"p":"3","s":"CO","g":"black","x":100,"y":25e-5},{"p":"3","s":"CO","g":"black","x":100.3,"y":1e-5},{"p":"3","s":"CO","g":"black","x":101,"y":0.3e-5},{"p":"3","s":"CO","g":"black","x":200,"y":0.05e-5}
]
},
"spacing":0,
"hconcat":[
{"vconcat":[
 {"width":87,"height":144,
  "encoding":{
   "x":{"field":"x","type":"quantitative","scale":{"domain":[0,2],"nice":false,"zero":false},"axis":{"values":[0,1,2],"labels":false,"tickSize":-4,"title":null}},
   "y":{"field":"y","type":"quantitative","scale":{"domain":[-0.0001,0.0001],"nice":false},"axis":{"values":[-0.00005,0,0.00005,0.0001],"labelExpr":"datum.value == 0 ? '0' : (datum.value < 0 ? '-' : '') + format(abs(datum.value), '.0e')","tickSize":8,"labelPadding":2,"title":null}},
   "color":{"field":"g","type":"nominal","scale":{"domain":["gray","black"],"range":["#9a9a9a","#111111"]},"legend":null}},
  "layer":[
   {"data":{"name":"curves"},"transform":[{"filter":"datum.p=='A'"}],"mark":{"type":"line","clip":true,"strokeWidth":1.3},"encoding":{"strokeDash":{"field":"s","type":"nominal","scale":{"domain":["H2","CO","H2O","CO2","CH4","O2"],"range":[[12,6],[9,3,2,3,2,3],[6,4],[10,3,2,3],[1,0],[1.5,2.5]]},"legend":null}}},
   {"data":{"name":"labels"},"transform":[{"filter":"datum.p=='A' && datum.k=='down'"}],"mark":{"type":"text","angle":15,"fontWeight":"bold"},"encoding":{"text":{"field":"t"}}},
   {"data":{"name":"labels"},"transform":[{"filter":"datum.p=='A' && datum.k=='steep'"}],"mark":{"type":"text","angle":-28,"fontWeight":"bold"},"encoding":{"text":{"field":"t"}}},
   {"data":{"name":"labels"},"transform":[{"filter":"datum.p=='A' && datum.k=='letter'"}],"mark":{"type":"text","font":"Liberation Serif","fontSize":20,"fontWeight":"bold"},"encoding":{"text":{"field":"t"}}}
  ]},
 {"width":87,"height":144,
  "encoding":{
   "x":{"field":"x","type":"quantitative","scale":{"domain":[0,2],"nice":false,"zero":false},"axis":{"values":[0,1,2],"labels":false,"tickSize":-4,"title":null}},
   "y":{"field":"y","type":"quantitative","scale":{"domain":[-0.0001,0.0001],"nice":false},"axis":{"values":[-0.00005,0,0.00005,0.0001],"labelExpr":"datum.value == 0 ? '0' : (datum.value < 0 ? '-' : '') + format(abs(datum.value), '.0e')","tickSize":8,"labelPadding":2,"title":"Species production rates (mol/cm²s)","titlePadding":10,"titleY":82}},
   "color":{"field":"g","type":"nominal","scale":{"domain":["gray","black"],"range":["#9a9a9a","#111111"]},"legend":null}},
  "layer":[
   {"data":{"name":"curves"},"transform":[{"filter":"datum.p=='B'"}],"mark":{"type":"line","clip":true,"strokeWidth":1.3},"encoding":{"strokeDash":{"field":"s","type":"nominal","scale":{"domain":["H2","CO","H2O","CO2","CH4","O2"],"range":[[12,6],[9,3,2,3,2,3],[6,4],[10,3,2,3],[1,0],[1.5,2.5]]},"legend":null}}},
   {"data":{"name":"labels"},"transform":[{"filter":"datum.p=='B' && datum.k=='down'"}],"mark":{"type":"text","angle":15,"fontWeight":"bold"},"encoding":{"text":{"field":"t"}}},
   {"data":{"name":"labels"},"transform":[{"filter":"datum.p=='B' && datum.k=='steep'"}],"mark":{"type":"text","angle":-28,"fontWeight":"bold"},"encoding":{"text":{"field":"t"}}},
   {"data":{"name":"labels"},"transform":[{"filter":"datum.p=='B' && datum.k=='letter'"}],"mark":{"type":"text","font":"Liberation Serif","fontSize":20,"fontWeight":"bold"},"encoding":{"text":{"field":"t"}}}
  ]},
 {"width":87,"height":144,
  "encoding":{
   "x":{"field":"x","type":"quantitative","scale":{"domain":[0,2],"nice":false,"zero":false},"axis":{"values":[0,1,2],"format":"d","tickSize":5,"labelPadding":3,"title":null}},
   "y":{"field":"y","type":"quantitative","scale":{"domain":[-0.0001,0.0001],"nice":false},"axis":{"values":[-0.0001,-0.00005,0,0.00005,0.0001],"labelExpr":"datum.value == 0 ? '0' : (datum.value < 0 ? '-' : '') + format(abs(datum.value), '.0e')","tickSize":8,"labelPadding":2,"title":null}},
   "color":{"field":"g","type":"nominal","scale":{"domain":["gray","black"],"range":["#9a9a9a","#111111"]},"legend":null}},
  "layer":[
   {"data":{"name":"curves"},"transform":[{"filter":"datum.p=='C'"}],"mark":{"type":"line","clip":true,"strokeWidth":1.3},"encoding":{"strokeDash":{"field":"s","type":"nominal","scale":{"domain":["H2","CO","H2O","CO2","CH4","O2"],"range":[[12,6],[9,3,2,3,2,3],[6,4],[10,3,2,3],[1,0],[1.5,2.5]]},"legend":null}}},
   {"data":{"name":"labels"},"transform":[{"filter":"datum.p=='C' && datum.k=='down'"}],"mark":{"type":"text","angle":15,"fontWeight":"bold"},"encoding":{"text":{"field":"t"}}},
   {"data":{"name":"labels"},"transform":[{"filter":"datum.p=='C' && datum.k=='steep'"}],"mark":{"type":"text","angle":-28,"fontWeight":"bold"},"encoding":{"text":{"field":"t"}}},
   {"data":{"name":"labels"},"transform":[{"filter":"datum.p=='C' && datum.k=='letter'"}],"mark":{"type":"text","font":"Liberation Serif","fontSize":20,"fontWeight":"bold"},"encoding":{"text":{"field":"t"}}}
  ]}
],"spacing":7,"bounds":"flush"},
{"vconcat":[
 {"width":279,"height":144,
  "encoding":{
   "x":{"field":"x","type":"quantitative","scale":{"domain":[2,200],"nice":false,"zero":false},"axis":{"values":[50,100,150,200],"labels":false,"tickSize":-4,"title":null}},
   "y":{"field":"y","type":"quantitative","scale":{"domain":[-0.0000155,0.00003],"nice":false,"zero":false},"axis":{"orient":"right","values":[-0.00001,0,0.00001,0.00002,0.00003],"labelExpr":"datum.value == 0 ? '0' : (datum.value < 0 ? '-' : '') + format(abs(datum.value), '.0e')","tickSize":8,"labelPadding":10,"title":null}},
   "color":{"field":"g","type":"nominal","scale":{"domain":["gray","black"],"range":["#9a9a9a","#111111"]},"legend":null}},
  "layer":[
   {"data":{"name":"curves"},"transform":[{"filter":"datum.p=='1'"}],"mark":{"type":"line","clip":true,"strokeWidth":1.3},"encoding":{"strokeDash":{"field":"s","type":"nominal","scale":{"domain":["H2","CO","H2O","CO2","CH4","O2"],"range":[[12,6],[9,3,2,3,2,3],[6,4],[10,3,2,3],[1,0],[1.5,2.5]]},"legend":null}}},
   {"data":{"name":"labels"},"transform":[{"filter":"datum.p=='1' && datum.k=='flat'"}],"mark":{"type":"text","fontWeight":"bold"},"encoding":{"text":{"field":"t"}}},
   {"data":{"name":"labels"},"transform":[{"filter":"datum.p=='1' && datum.k=='bflat'"}],"mark":{"type":"text","fontSize":16},"encoding":{"text":{"field":"t"}}},
   {"data":{"name":"labels"},"transform":[{"filter":"datum.p=='1' && datum.k=='up'"}],"mark":{"type":"text","angle":-20,"fontWeight":"bold"},"encoding":{"text":{"field":"t"}}},
   {"data":{"name":"labels"},"transform":[{"filter":"datum.p=='1' && datum.k=='down'"}],"mark":{"type":"text","angle":12,"fontWeight":"bold"},"encoding":{"text":{"field":"t"}}},
   {"data":{"name":"labels"},"transform":[{"filter":"datum.p=='1' && datum.k=='case'"}],"mark":{"type":"text","align":"left","fontSize":18,"fontWeight":"bold"},"encoding":{"text":{"field":"t"}}}
  ]},
 {"width":279,"height":144,
  "encoding":{
   "x":{"field":"x","type":"quantitative","scale":{"domain":[2,200],"nice":false,"zero":false},"axis":{"values":[50,100,150,200],"labels":false,"tickSize":-4,"title":null}},
   "y":{"field":"y","type":"quantitative","scale":{"domain":[-0.000021,0.000032],"nice":false,"zero":false},"axis":{"orient":"right","values":[-0.00002,-0.00001,0,0.00001,0.00002,0.00003],"labelExpr":"datum.value == 0 ? '0' : (datum.value < 0 ? '-' : '') + format(abs(datum.value), '.0e')","tickSize":8,"labelPadding":10,"title":null}},
   "color":{"field":"g","type":"nominal","scale":{"domain":["gray","black"],"range":["#9a9a9a","#111111"]},"legend":null}},
  "layer":[
   {"data":{"name":"curves"},"transform":[{"filter":"datum.p=='2'"}],"mark":{"type":"line","clip":true,"strokeWidth":1.3},"encoding":{"strokeDash":{"field":"s","type":"nominal","scale":{"domain":["H2","CO","H2O","CO2","CH4","O2"],"range":[[12,6],[9,3,2,3,2,3],[6,4],[10,3,2,3],[1,0],[1.5,2.5]]},"legend":null}}},
   {"data":{"name":"labels"},"transform":[{"filter":"datum.p=='2' && datum.k=='flat'"}],"mark":{"type":"text","fontWeight":"bold"},"encoding":{"text":{"field":"t"}}},
   {"data":{"name":"labels"},"transform":[{"filter":"datum.p=='2' && datum.k=='bflat'"}],"mark":{"type":"text","fontSize":16},"encoding":{"text":{"field":"t"}}},
   {"data":{"name":"labels"},"transform":[{"filter":"datum.p=='2' && datum.k=='steep'"}],"mark":{"type":"text","angle":-30,"fontWeight":"bold"},"encoding":{"text":{"field":"t"}}},
   {"data":{"name":"labels"},"transform":[{"filter":"datum.p=='2' && datum.k=='down'"}],"mark":{"type":"text","angle":15,"fontWeight":"bold"},"encoding":{"text":{"field":"t"}}},
   {"data":{"name":"labels"},"transform":[{"filter":"datum.p=='2' && datum.k=='case'"}],"mark":{"type":"text","align":"left","fontSize":18,"fontWeight":"bold"},"encoding":{"text":{"field":"t"}}}
  ]},
 {"width":279,"height":144,
  "encoding":{
   "x":{"field":"x","type":"quantitative","scale":{"domain":[2,200],"nice":false,"zero":false},"axis":{"values":[50,100,150,200],"tickSize":5,"labelPadding":3,"title":"Streamwise distance x (mm)","titleX":114,"titlePadding":3}},
   "y":{"field":"y","type":"quantitative","scale":{"domain":[-0.00003,0.00004],"nice":false,"zero":false},"axis":{"orient":"right","values":[-0.00003,-0.00002,-0.00001,0,0.00001,0.00002,0.00003,0.00004],"labelExpr":"datum.value == 0 ? '0' : (datum.value < 0 ? '-' : '') + format(abs(datum.value), '.0e')","tickSize":8,"labelPadding":10,"title":null}},
   "color":{"field":"g","type":"nominal","scale":{"domain":["gray","black"],"range":["#9a9a9a","#111111"]},"legend":null}},
  "layer":[
   {"data":{"name":"curves"},"transform":[{"filter":"datum.p=='3'"}],"mark":{"type":"line","clip":true,"strokeWidth":1.3},"encoding":{"strokeDash":{"field":"s","type":"nominal","scale":{"domain":["H2","CO","H2O","CO2","CH4","O2"],"range":[[12,6],[9,3,2,3,2,3],[6,4],[10,3,2,3],[1,0],[1.5,2.5]]},"legend":null}}},
   {"data":{"name":"labels"},"transform":[{"filter":"datum.p=='3' && datum.k=='flat'"}],"mark":{"type":"text","fontWeight":"bold"},"encoding":{"text":{"field":"t"}}},
   {"data":{"name":"labels"},"transform":[{"filter":"datum.p=='3' && datum.k=='up'"}],"mark":{"type":"text","angle":-18,"fontWeight":"bold"},"encoding":{"text":{"field":"t"}}},
   {"data":{"name":"labels"},"transform":[{"filter":"datum.p=='3' && datum.k=='case'"}],"mark":{"type":"text","align":"left","fontSize":18,"fontWeight":"bold"},"encoding":{"text":{"field":"t"}}}
  ]}
],"spacing":7,"bounds":"flush"}
]
}
